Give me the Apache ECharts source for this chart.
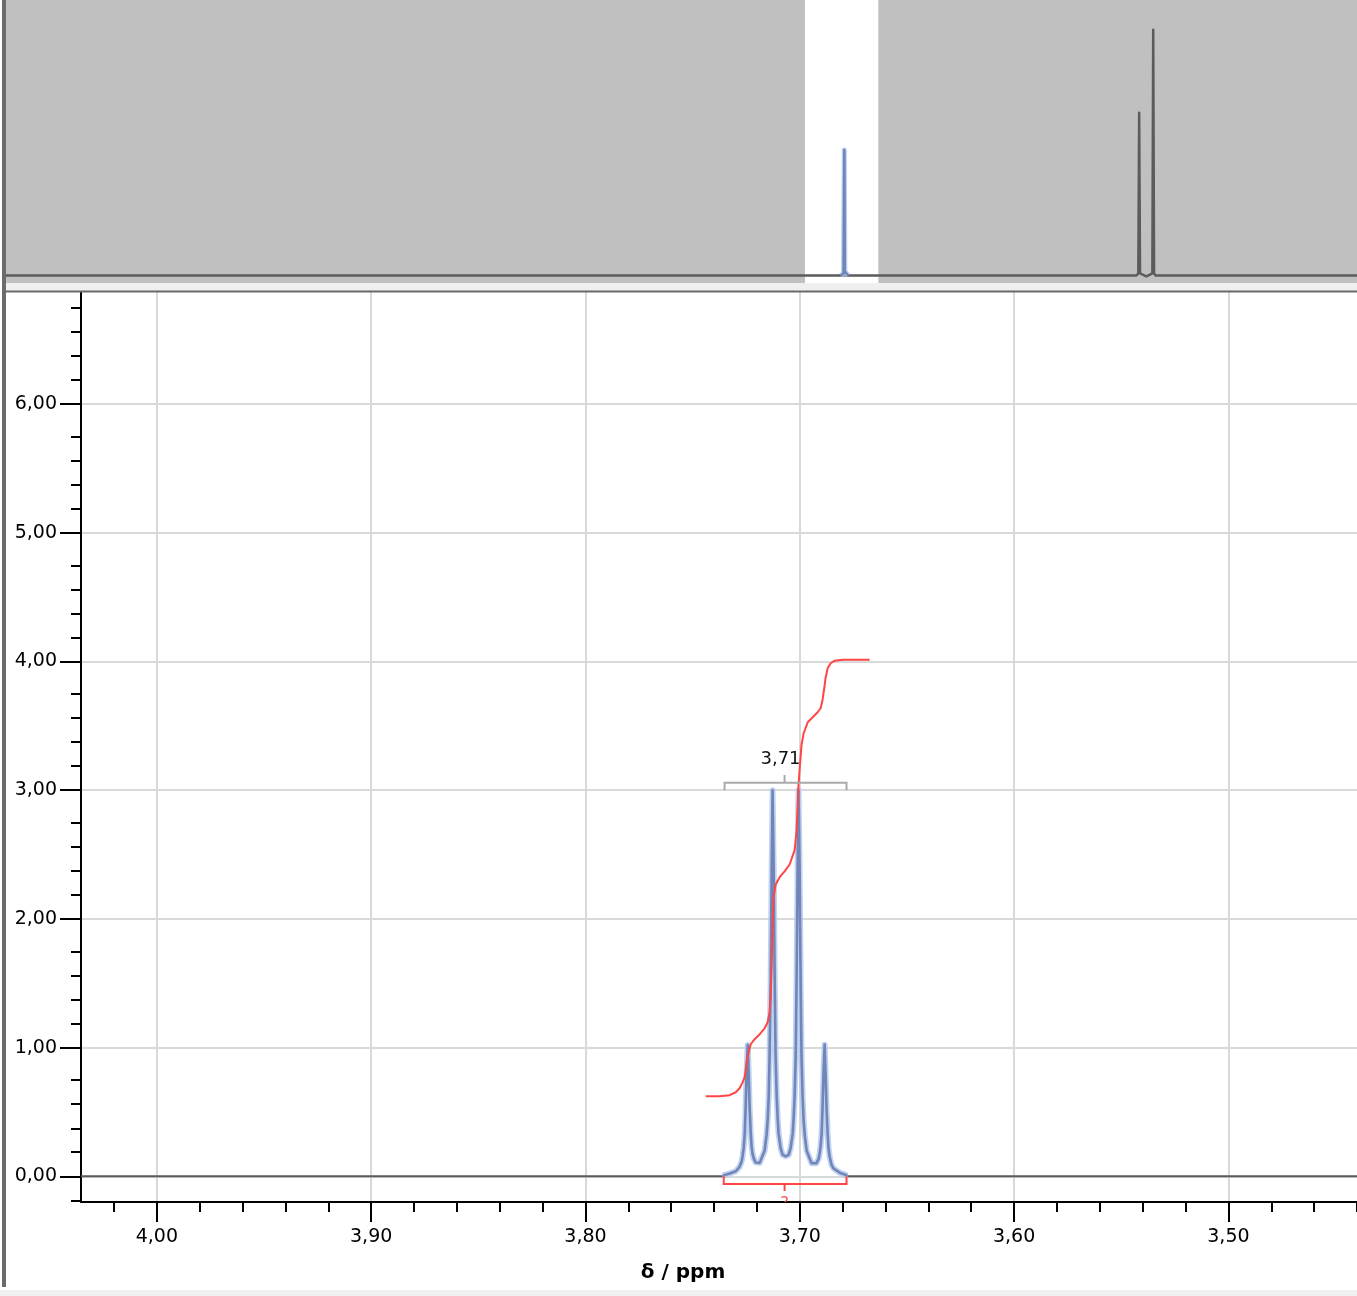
<!DOCTYPE html>
<html><head><meta charset="utf-8">
<script src="https://cdn.jsdelivr.net/npm/echarts@6/dist/echarts.min.js"></script>
<style>html,body{margin:0;padding:0;background:#fff}#c{width:1357px;height:1296px}</style>
</head><body><div id="c"></div>
<script>
// ---------------- data ----------------
const xMajorTicks = [4.00, 3.90, 3.80, 3.70, 3.60, 3.50];
const xMinorTicks = [4.02, 3.98, 3.96, 3.94, 3.92, 3.88, 3.86, 3.84, 3.82, 3.78, 3.76, 3.74, 3.72,
  3.68, 3.66, 3.64, 3.62, 3.58, 3.56, 3.54, 3.52, 3.48, 3.46, 3.44];
const yMajorTicks = [0, 1, 2, 3, 4, 5, 6];
const yMinorTicks = [-0.187, 0.187, 0.373, 0.56, 0.747, 1.187, 1.373, 1.56, 1.747, 2.187, 2.373, 2.56, 2.747,
  3.187, 3.373, 3.56, 3.747, 4.187, 4.373, 4.56, 4.747, 5.187, 5.373, 5.56, 5.747, 6.187, 6.373, 6.56, 6.747];

// main spectrum: baseline pieces (grey) and the integrated multiplet (blue)
const baselineLeft = [[4.0354, 0], [3.7360, 0]];
const baselineRight = [[3.6777, 0], [3.4400, 0]];
const multipletSpectrum = [
  [3.7360, 0.005], [3.7327, 0.022], [3.7299, 0.039], [3.7281, 0.074], [3.7271, 0.117], [3.7267, 0.156],
  [3.7262, 0.219], [3.7257, 0.33], [3.7253, 0.52], [3.7248, 0.82], [3.7243, 1.02], [3.7239, 0.83],
  [3.7234, 0.53], [3.7229, 0.34], [3.7225, 0.233], [3.7220, 0.17], [3.7215, 0.139], [3.7206, 0.107],
  [3.7197, 0.095], [3.7187, 0.104], [3.7164, 0.20], [3.7155, 0.321], [3.7150, 0.433], [3.7145, 0.618],
  [3.7141, 0.939], [3.7136, 1.51], [3.7131, 2.405], [3.7127, 3.0], [3.7122, 2.406], [3.7117, 1.515],
  [3.7113, 0.944], [3.7108, 0.626], [3.7103, 0.443], [3.7099, 0.333], [3.7089, 0.217], [3.7080, 0.166],
  [3.7066, 0.155], [3.7052, 0.166], [3.7043, 0.217], [3.7033, 0.333], [3.7029, 0.443], [3.7024, 0.626],
  [3.7019, 0.944], [3.7015, 1.515], [3.7010, 2.406], [3.7006, 3.0], [3.7001, 2.404], [3.6996, 1.511],
  [3.6992, 0.938], [3.6987, 0.618], [3.6982, 0.433], [3.6977, 0.32], [3.6968, 0.199], [3.6945, 0.101],
  [3.6936, 0.095], [3.6922, 0.102], [3.6912, 0.136], [3.6908, 0.171], [3.6903, 0.230], [3.6898, 0.336],
  [3.6894, 0.526], [3.6889, 0.824], [3.6884, 1.023], [3.6880, 0.821], [3.6875, 0.52], [3.6870, 0.327],
  [3.6866, 0.218], [3.6861, 0.155], [3.6852, 0.090], [3.6842, 0.060], [3.6814, 0.028], [3.6777, 0.005]
];
const integralCurve = [
  [3.7439, 0.622], [3.7374, 0.622], [3.7327, 0.63], [3.7299, 0.653], [3.7281, 0.684], [3.7267, 0.73],
  [3.7257, 0.77], [3.7248, 0.886], [3.7239, 0.96], [3.7229, 1.026], [3.7211, 1.065], [3.7187, 1.104],
  [3.7164, 1.15], [3.7150, 1.197], [3.7141, 1.275], [3.7136, 1.40], [3.7131, 1.65], [3.7127, 1.97],
  [3.7122, 2.17], [3.7113, 2.265], [3.7094, 2.324], [3.7071, 2.37], [3.7047, 2.425], [3.7024, 2.534],
  [3.7015, 2.689], [3.7010, 2.883], [3.7006, 3.039], [3.7001, 3.155], [3.6992, 3.35], [3.6982, 3.443],
  [3.6963, 3.528], [3.6940, 3.567], [3.6917, 3.606], [3.6903, 3.637], [3.6894, 3.699], [3.6884, 3.816],
  [3.6880, 3.87], [3.6870, 3.948], [3.6856, 3.987], [3.6838, 4.006], [3.6800, 4.014], [3.6674, 4.014]
];
const multipletRange = [3.7351, 3.6782];
const multipletCentre = 3.7071;
const multipletLabel = '3,71';
const integralRange = [3.7355, 3.6782];
const integralLabel = '2';

// overview strip
const overviewSpectrum = [[10.52, 0], [1.345, 0], [1.330, 0.05], [1.323, 3.89], [1.316, 0.05], [1.265, -0.02],
  [1.216, 0.05], [1.209, 5.88], [1.202, 0.05], [1.19, 0], [-0.445, 0]];
const overviewMultiplet = [[3.745, 0], [3.722, 0.05], [3.716, 3.0], [3.712, 0.1], [3.700, 0.05], [3.685, 0]];
const overviewWindow = [4.0354, 3.44];

// ---------------- chart ----------------
const FONT = 'DejaVu Sans';
const fmt = v => Number(v).toFixed(2).replace('.', ',');
const chart = echarts.init(document.getElementById('c'), null, { renderer: 'canvas' });

const bracket = (range, centre, base, level, stub) => [
  [range[0], base], [range[0], level], [centre, level], [centre, stub], [centre, level],
  [range[1], level], [range[1], base]
];

const option = {
  animation: false,
  backgroundColor: '#ffffff',
  grid: [
    { left: 6, right: 0, top: 0, height: 283, show: true, backgroundColor: '#c0c0c0', borderWidth: 0 },
    { left: 81, right: 0, top: 292, height: 910, show: false }
  ],
  xAxis: [
    { type: 'value', gridIndex: 0, min: -0.445, max: 10.52, inverse: true, show: false },
    {
      type: 'value', gridIndex: 1, min: 3.44, max: 4.0354, inverse: true, position: 'bottom',
      axisLine: { show: true, onZero: false, lineStyle: { color: '#000', width: 2 } },
      axisTick: { show: true, customValues: xMajorTicks, length: 20, lineStyle: { color: '#000', width: 2 } },
      axisLabel: { show: true, customValues: xMajorTicks, formatter: fmt, margin: 26, fontSize: 19,
        fontFamily: FONT, color: '#000' },
      splitLine: { show: true, lineStyle: { color: '#d9d9d9', width: 2 } }
    },
    {
      type: 'value', gridIndex: 1, min: 3.44, max: 4.0354, inverse: true, position: 'bottom',
      axisLine: { show: false, onZero: false },
      axisTick: { show: true, customValues: xMinorTicks, length: 10, lineStyle: { color: '#000', width: 2 } },
      axisLabel: { show: false }, splitLine: { show: false }
    }
  ],
  yAxis: [
    { type: 'value', gridIndex: 0, min: -0.18, max: 6.59, show: false },
    {
      type: 'value', gridIndex: 1, min: -0.2, max: 6.872, position: 'left',
      axisLine: { show: true, onZero: false, lineStyle: { color: '#000', width: 2 } },
      axisTick: { show: true, customValues: yMajorTicks, length: 21, lineStyle: { color: '#000', width: 2 } },
      axisLabel: { show: true, customValues: yMajorTicks, formatter: fmt, margin: 24, fontSize: 19,
        fontFamily: FONT, color: '#000' },
      splitLine: { show: true, lineStyle: { color: '#d9d9d9', width: 2 } }
    },
    {
      type: 'value', gridIndex: 1, min: -0.2, max: 6.872, position: 'left',
      axisLine: { show: false, onZero: false },
      axisTick: { show: true, customValues: yMinorTicks, length: 10, lineStyle: { color: '#000', width: 2 } },
      axisLabel: { show: false }, splitLine: { show: false }
    }
  ],
  series: [
    // overview window (white)
    {
      type: 'custom', xAxisIndex: 0, yAxisIndex: 0, z: 1, silent: true,
      data: [overviewWindow],
      renderItem(params, api) {
        const a = api.coord([api.value(0), 6.59]);
        const b = api.coord([api.value(1), -0.18]);
        return { type: 'rect', shape: { x: a[0], y: a[1], width: b[0] - a[0], height: b[1] - a[1] },
          style: { fill: '#ffffff' } };
      }
    },
    { type: 'line', xAxisIndex: 0, yAxisIndex: 0, z: 3, data: overviewSpectrum, showSymbol: false, symbol: 'none',
      lineStyle: { color: '#5b5b5b', width: 2.5, join: 'round' } },
    { type: 'line', xAxisIndex: 0, yAxisIndex: 0, z: 4, data: overviewMultiplet, showSymbol: false, symbol: 'none',
      lineStyle: { color: 'rgba(175,198,240,0.9)', width: 5, join: 'round' } },
    { type: 'line', xAxisIndex: 0, yAxisIndex: 0, z: 5, data: overviewMultiplet, showSymbol: false, symbol: 'none',
      lineStyle: { color: '#7185b6', width: 2.5, join: 'round' } },

    // main spectrum
    { type: 'line', xAxisIndex: 1, yAxisIndex: 1, z: 3, data: baselineLeft, showSymbol: false, symbol: 'none',
      lineStyle: { color: '#5a5a5a', width: 2 } },
    { type: 'line', xAxisIndex: 1, yAxisIndex: 1, z: 3, data: baselineRight, showSymbol: false, symbol: 'none',
      lineStyle: { color: '#5a5a5a', width: 2 } },
    { type: 'line', xAxisIndex: 1, yAxisIndex: 1, z: 4, data: multipletSpectrum, showSymbol: false, symbol: 'none',
      lineStyle: { color: 'rgba(178,200,240,0.8)', width: 6, join: 'round' } },
    { type: 'line', xAxisIndex: 1, yAxisIndex: 1, z: 5, data: multipletSpectrum, showSymbol: false, symbol: 'none',
      lineStyle: { color: '#7185b6', width: 2.6, join: 'round' } },

    // integral curve
    { type: 'line', xAxisIndex: 1, yAxisIndex: 1, z: 6, data: integralCurve, showSymbol: false, symbol: 'none',
      lineStyle: { color: '#ff4545', width: 2, join: 'round' } },

    // multiplet bracket + label
    { type: 'line', xAxisIndex: 1, yAxisIndex: 1, z: 6, showSymbol: false, symbol: 'none',
      data: bracket(multipletRange, multipletCentre, 3.0, 3.058, 3.118),
      lineStyle: { color: '#a9a9a9', width: 2, join: 'miter' } },
    {
      type: 'custom', xAxisIndex: 1, yAxisIndex: 1, z: 7, silent: true,
      data: [[3.709, 3.242]],
      renderItem(params, api) {
        const p = api.coord([api.value(0), api.value(1)]);
        return { type: 'text', x: p[0], y: p[1],
          style: { text: multipletLabel, fill: '#111', font: '18px "DejaVu Sans"', align: 'center', verticalAlign: 'middle' } };
      }
    },

    // integral bracket + (clipped) label
    { type: 'line', xAxisIndex: 1, yAxisIndex: 1, z: 6, showSymbol: false, symbol: 'none',
      data: bracket(integralRange, multipletCentre, 0, -0.061, -0.115),
      lineStyle: { color: '#ff4545', width: 2, join: 'miter' } },
    {
      type: 'custom', xAxisIndex: 1, yAxisIndex: 1, z: 7, silent: true, clip: true,
      data: [[multipletCentre, -0.2]],
      renderItem(params, api) {
        const p = api.coord([api.value(0), api.value(1)]);
        return { type: 'text', x: p[0], y: p[1],
          style: { text: integralLabel, fill: '#ff4545', font: '14px "DejaVu Sans"', align: 'center', verticalAlign: 'middle' } };
      }
    }
  ],
  graphic: [
    { type: 'rect', z: 50, silent: true, shape: { x: 2, y: 0, width: 4, height: 1287 }, style: { fill: '#6b6b6b' } },
    { type: 'rect', z: 50, silent: true, shape: { x: 6, y: 283, width: 1351, height: 8 }, style: { fill: '#efefef' } },
    { type: 'rect', z: 50, silent: true, shape: { x: 2, y: 290.5, width: 1355, height: 2 }, style: { fill: '#6a6a6a' } },
    { type: 'rect', z: 50, silent: true, shape: { x: 0, y: 1290, width: 1357, height: 6 }, style: { fill: '#f0f0f0' } },
    { type: 'text', z: 50, silent: true, x: 683, y: 1273,
      style: { text: 'δ / ppm', font: 'bold 20px "DejaVu Sans"', fill: '#000', align: 'center', verticalAlign: 'middle' } }
  ]
};
chart.setOption(option);
</script>
</body></html>
